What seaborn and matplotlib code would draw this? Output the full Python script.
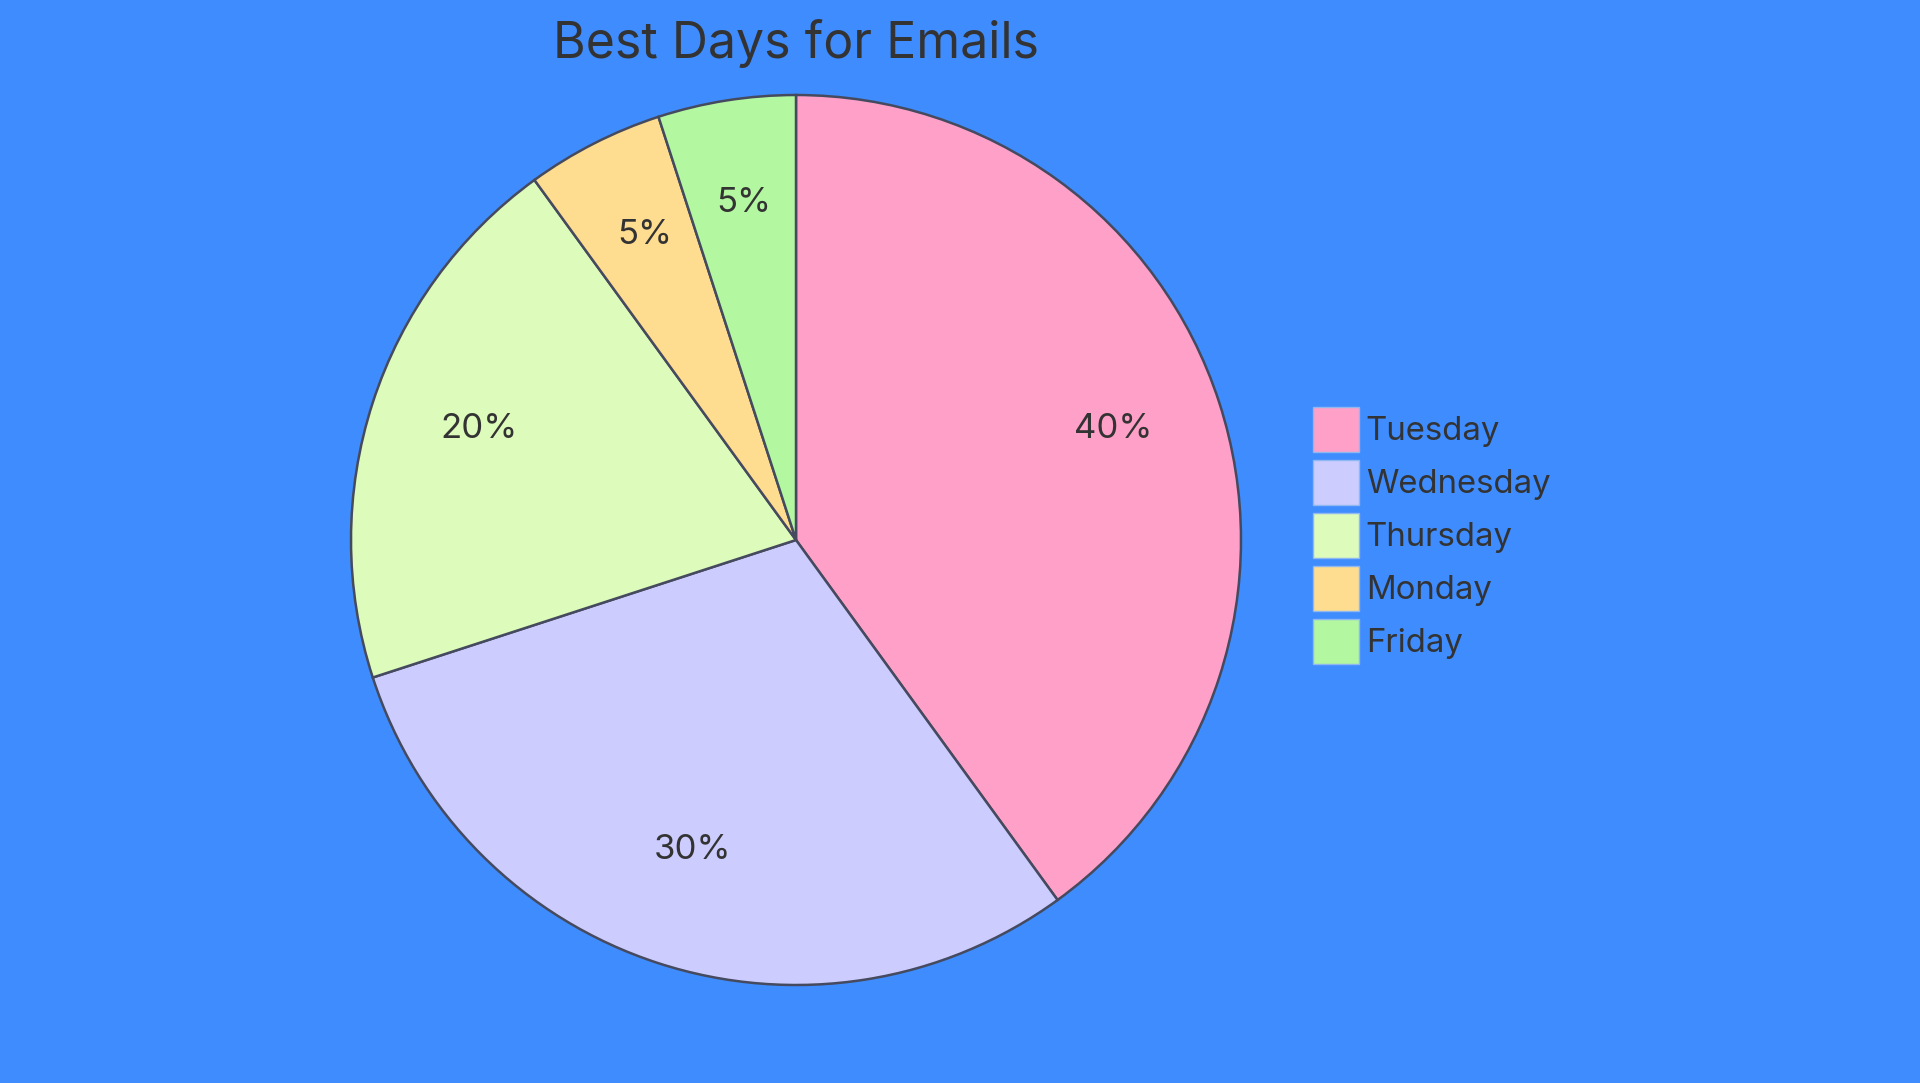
import matplotlib
matplotlib.use("Agg")
import matplotlib.pyplot as plt
from matplotlib.patches import Patch
import seaborn as sns

# data
days = ["Tuesday", "Wednesday", "Thursday", "Monday", "Friday"]
shares = [40, 30, 20, 5, 5]
colors = ["#FFA0C8", "#CCCCFF", "#DDFBBB", "#FFDD90", "#B3F7A0"]

bg = "#3F8CFF"
ink = "#333333"
edge = "#454A5E"

sns.set_theme(style="white")
plt.rcParams["font.family"] = ["Inter", "DejaVu Sans"]

fig = plt.figure(figsize=(19.2, 10.83), dpi=100, facecolor=bg)
# pie centre at ~(796, 539) px, radius ~445 px
ax = fig.add_axes([351 / 1920, 98 / 1083, 890 / 1920, 890 / 1083])
ax.set_facecolor(bg)

wedges, texts, autotexts = ax.pie(
    shares,
    colors=colors,
    startangle=90,
    counterclock=False,
    autopct="%1.0f%%",
    pctdistance=0.75,
    wedgeprops=dict(edgecolor=edge, linewidth=1.8),
    textprops=dict(color=ink, fontsize=25),
)
# labels sit a little above the geometric point in the reference
for t in autotexts:
    x, y = t.get_position()
    t.set_position((x, y + 0.017))

ax.set_xlim(-1.0, 1.0)
ax.set_ylim(-1.0, 1.0)
ax.set_aspect("equal")
ax.axis("off")

fig.text(796 / 1920, 1 - 43 / 1083, "Best Days for Emails", ha="center", va="center",
         fontsize=36, color=ink)

handles = [Patch(facecolor=c, edgecolor="#8FB8F0", linewidth=1.0) for c in colors]
leg = fig.legend(
    handles, days,
    loc="upper left",
    bbox_to_anchor=(1313 / 1920, 1 - 407 / 1083),
    frameon=False,
    fontsize=23.7,
    handlelength=1.4,
    handleheight=1.72,
    handletextpad=0.2,
    labelspacing=0.25,
    borderpad=0,
    borderaxespad=0,
)
for t in leg.get_texts():
    t.set_color(ink)

fig.savefig("out.png", dpi=100, facecolor=bg)
